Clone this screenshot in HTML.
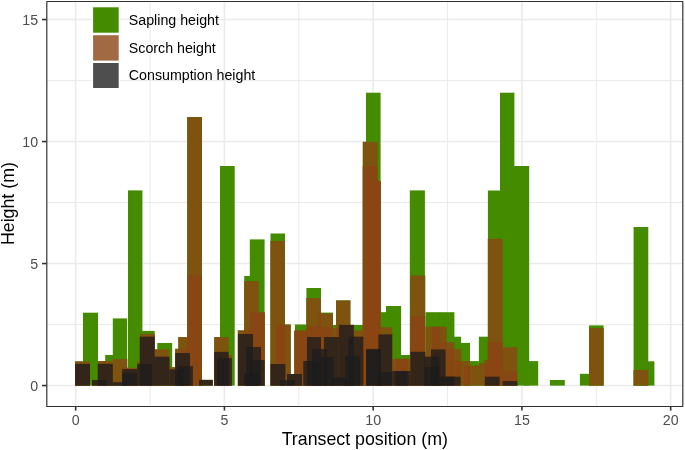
<!DOCTYPE html>
<html><head><meta charset="utf-8"><style>
html,body{margin:0;padding:0;background:#fff;}
svg{display:block;will-change:transform;}
text{font-family:"Liberation Sans",sans-serif;}
.g{fill:#458B00;}
.b{fill:#8B4513;fill-opacity:0.8;}
.d{fill:#1C1C1C;fill-opacity:0.78;}
.gmaj{stroke:#EBEBEB;stroke-width:1.6;}
.gmin{stroke:#EBEBEB;stroke-width:1.0;}
.tick{stroke:#333;stroke-width:1.6;}
.tl{fill:#4D4D4D;font-size:14.23px;}
.at{fill:#000;font-size:17.79px;}
.lt{fill:#000;font-size:14.23px;}
</style></head><body>
<svg width="685" height="450" viewBox="0 0 685 450">
<rect x="0" y="0" width="685" height="450" fill="#fff"/>
<line class="gmin" x1="46.8" x2="682.8" y1="324.56" y2="324.56"/>
<line class="gmin" x1="46.8" x2="682.8" y1="202.56" y2="202.56"/>
<line class="gmin" x1="46.8" x2="682.8" y1="80.56" y2="80.56"/>
<line class="gmin" x1="150.05" x2="150.05" y1="1.5" y2="406.5"/>
<line class="gmin" x1="298.80" x2="298.80" y1="1.5" y2="406.5"/>
<line class="gmin" x1="447.55" x2="447.55" y1="1.5" y2="406.5"/>
<line class="gmin" x1="596.29" x2="596.29" y1="1.5" y2="406.5"/>
<line class="gmaj" x1="46.8" x2="682.8" y1="385.56" y2="385.56"/>
<line class="gmaj" x1="46.8" x2="682.8" y1="263.56" y2="263.56"/>
<line class="gmaj" x1="46.8" x2="682.8" y1="141.56" y2="141.56"/>
<line class="gmaj" x1="46.8" x2="682.8" y1="19.56" y2="19.56"/>
<line class="gmaj" x1="75.67" x2="75.67" y1="1.5" y2="406.5"/>
<line class="gmaj" x1="224.42" x2="224.42" y1="1.5" y2="406.5"/>
<line class="gmaj" x1="373.17" x2="373.17" y1="1.5" y2="406.5"/>
<line class="gmaj" x1="521.92" x2="521.92" y1="1.5" y2="406.5"/>
<line class="gmaj" x1="670.67" x2="670.67" y1="1.5" y2="406.5"/>
<rect class="g" x="75.0" y="361.5" width="15.0" height="24.1"/>
<rect class="g" x="83.0" y="312.7" width="15.0" height="72.9"/>
<rect class="g" x="97.8" y="361.1" width="15.0" height="24.5"/>
<rect class="g" x="105.2" y="355.0" width="14.8" height="30.6"/>
<rect class="g" x="112.8" y="318.4" width="14.4" height="67.2"/>
<rect class="g" x="128.0" y="190.4" width="14.4" height="195.2"/>
<rect class="g" x="140.0" y="330.9" width="14.7" height="54.7"/>
<rect class="g" x="157.3" y="343.0" width="14.9" height="42.6"/>
<rect class="g" x="187.3" y="117.0" width="14.6" height="268.6"/>
<rect class="g" x="220.0" y="166.0" width="14.7" height="219.6"/>
<rect class="g" x="244.2" y="276.0" width="14.8" height="109.6"/>
<rect class="g" x="249.8" y="239.4" width="14.8" height="146.2"/>
<rect class="g" x="270.5" y="233.5" width="14.5" height="152.1"/>
<rect class="g" x="295.0" y="324.5" width="12.0" height="61.1"/>
<rect class="g" x="306.4" y="288.0" width="14.6" height="97.6"/>
<rect class="g" x="318.2" y="312.6" width="14.7" height="73.0"/>
<rect class="g" x="333.0" y="325.0" width="15.0" height="60.6"/>
<rect class="g" x="348.5" y="325.0" width="14.8" height="60.6"/>
<rect class="g" x="366.0" y="92.7" width="14.6" height="292.9"/>
<rect class="g" x="371.5" y="312.2" width="14.5" height="73.4"/>
<rect class="g" x="386.0" y="306.0" width="15.1" height="79.6"/>
<rect class="g" x="396.0" y="355.0" width="14.4" height="30.6"/>
<rect class="g" x="409.8" y="190.4" width="15.1" height="195.2"/>
<rect class="g" x="425.6" y="312.2" width="14.8" height="73.4"/>
<rect class="g" x="439.6" y="312.2" width="14.8" height="73.4"/>
<rect class="g" x="446.5" y="336.7" width="14.6" height="48.9"/>
<rect class="g" x="455.2" y="342.9" width="14.8" height="42.7"/>
<rect class="g" x="464.0" y="361.1" width="14.9" height="24.5"/>
<rect class="g" x="478.9" y="336.7" width="14.8" height="48.9"/>
<rect class="g" x="487.9" y="190.5" width="14.7" height="195.1"/>
<rect class="g" x="500.0" y="92.7" width="14.4" height="292.9"/>
<rect class="g" x="514.0" y="166.0" width="15.2" height="219.6"/>
<rect class="g" x="523.4" y="361.1" width="14.8" height="24.5"/>
<rect class="g" x="549.9" y="380.0" width="14.9" height="5.6"/>
<rect class="g" x="579.9" y="373.8" width="14.7" height="11.8"/>
<rect class="g" x="589.0" y="325.4" width="14.6" height="60.2"/>
<rect class="g" x="633.6" y="227.0" width="14.7" height="158.6"/>
<rect class="g" x="639.5" y="361.3" width="14.9" height="24.3"/>
<rect class="g" x="75.0" y="361.5" width="15.0" height="24.1"/>
<rect class="g" x="97.8" y="361.1" width="15.0" height="24.5"/>
<rect class="g" x="112.8" y="359.1" width="14.4" height="26.5"/>
<rect class="g" x="122.2" y="367.8" width="15.0" height="17.8"/>
<rect class="g" x="137.2" y="361.7" width="14.8" height="23.9"/>
<rect class="g" x="139.8" y="333.9" width="14.9" height="51.7"/>
<rect class="g" x="154.4" y="349.4" width="15.0" height="36.2"/>
<rect class="g" x="169.4" y="367.2" width="14.6" height="18.4"/>
<rect class="g" x="175.2" y="348.8" width="14.8" height="36.8"/>
<rect class="g" x="178.3" y="337.1" width="14.7" height="48.5"/>
<rect class="g" x="187.3" y="117.0" width="14.6" height="268.6"/>
<rect class="g" x="187.3" y="275.5" width="14.6" height="110.1"/>
<rect class="g" x="214.2" y="337.1" width="14.5" height="48.5"/>
<rect class="g" x="217.0" y="355.0" width="14.8" height="30.6"/>
<rect class="g" x="237.8" y="330.4" width="14.8" height="55.2"/>
<rect class="g" x="244.2" y="281.1" width="14.5" height="104.5"/>
<rect class="g" x="249.8" y="312.5" width="14.8" height="73.1"/>
<rect class="g" x="258.7" y="312.5" width="5.9" height="73.1"/>
<rect class="g" x="270.5" y="241.0" width="14.5" height="144.6"/>
<rect class="g" x="276.0" y="324.5" width="14.8" height="61.1"/>
<rect class="g" x="294.4" y="330.3" width="14.8" height="55.3"/>
<rect class="g" x="294.4" y="331.0" width="14.8" height="54.6"/>
<rect class="g" x="306.4" y="326.3" width="14.8" height="59.3"/>
<rect class="g" x="306.4" y="298.0" width="14.6" height="87.6"/>
<rect class="g" x="318.2" y="313.3" width="14.7" height="72.3"/>
<rect class="g" x="318.2" y="326.3" width="14.8" height="59.3"/>
<rect class="g" x="333.0" y="328.0" width="15.0" height="57.6"/>
<rect class="g" x="336.0" y="300.4" width="14.4" height="85.2"/>
<rect class="g" x="348.5" y="330.5" width="14.8" height="55.1"/>
<rect class="g" x="362.8" y="141.8" width="14.8" height="243.8"/>
<rect class="g" x="362.8" y="166.3" width="14.8" height="219.3"/>
<rect class="g" x="366.0" y="181.0" width="14.7" height="204.6"/>
<rect class="g" x="377.6" y="181.0" width="3.1" height="204.6"/>
<rect class="g" x="377.4" y="327.3" width="14.8" height="58.3"/>
<rect class="g" x="392.2" y="358.9" width="15.5" height="26.7"/>
<rect class="g" x="395.6" y="358.9" width="14.8" height="26.7"/>
<rect class="g" x="410.4" y="275.4" width="14.8" height="110.2"/>
<rect class="g" x="410.4" y="316.7" width="14.8" height="68.9"/>
<rect class="g" x="425.6" y="326.7" width="14.8" height="58.9"/>
<rect class="g" x="432.0" y="326.7" width="14.7" height="58.9"/>
<rect class="g" x="439.6" y="342.2" width="14.8" height="43.4"/>
<rect class="g" x="446.5" y="348.9" width="14.6" height="36.7"/>
<rect class="g" x="455.2" y="361.0" width="14.8" height="24.6"/>
<rect class="g" x="464.0" y="365.6" width="14.9" height="20.0"/>
<rect class="g" x="478.9" y="363.3" width="14.8" height="22.3"/>
<rect class="g" x="487.9" y="238.8" width="14.7" height="146.8"/>
<rect class="g" x="487.9" y="342.7" width="14.7" height="42.9"/>
<rect class="g" x="502.2" y="347.3" width="15.1" height="38.3"/>
<rect class="g" x="484.4" y="360.0" width="14.6" height="25.6"/>
<rect class="g" x="502.2" y="371.1" width="15.1" height="14.5"/>
<rect class="g" x="589.0" y="328.1" width="14.6" height="57.5"/>
<rect class="g" x="633.6" y="370.0" width="14.7" height="15.6"/>
<rect class="g" x="75.0" y="363.9" width="15.0" height="21.7"/>
<rect class="g" x="92.0" y="380.0" width="15.0" height="5.6"/>
<rect class="g" x="97.8" y="363.9" width="15.0" height="21.7"/>
<rect class="g" x="112.8" y="382.2" width="14.4" height="3.4"/>
<rect class="g" x="122.2" y="369.1" width="15.0" height="16.5"/>
<rect class="g" x="122.2" y="373.3" width="15.0" height="12.3"/>
<rect class="g" x="137.2" y="363.9" width="14.8" height="21.7"/>
<rect class="g" x="139.8" y="336.7" width="14.9" height="48.9"/>
<rect class="g" x="154.4" y="356.7" width="15.0" height="28.9"/>
<rect class="g" x="169.4" y="369.4" width="14.8" height="16.2"/>
<rect class="g" x="175.2" y="353.0" width="14.8" height="32.6"/>
<rect class="g" x="177.8" y="366.2" width="15.1" height="19.4"/>
<rect class="g" x="199.1" y="379.9" width="13.7" height="5.7"/>
<rect class="g" x="214.2" y="351.9" width="14.5" height="33.7"/>
<rect class="g" x="217.0" y="358.1" width="14.8" height="27.5"/>
<rect class="g" x="238.0" y="334.0" width="15.0" height="51.6"/>
<rect class="g" x="246.0" y="347.0" width="15.0" height="38.6"/>
<rect class="g" x="244.0" y="374.0" width="15.0" height="11.6"/>
<rect class="g" x="249.8" y="360.0" width="14.8" height="25.6"/>
<rect class="g" x="270.6" y="364.0" width="14.8" height="21.6"/>
<rect class="g" x="280.0" y="380.0" width="15.0" height="5.6"/>
<rect class="g" x="287.0" y="374.0" width="15.0" height="11.6"/>
<rect class="g" x="303.3" y="361.0" width="14.7" height="24.6"/>
<rect class="g" x="307.0" y="337.0" width="14.0" height="48.6"/>
<rect class="g" x="324.0" y="337.0" width="14.8" height="48.6"/>
<rect class="g" x="312.0" y="349.0" width="15.0" height="36.6"/>
<rect class="g" x="319.0" y="357.0" width="15.0" height="28.6"/>
<rect class="g" x="338.9" y="324.9" width="14.9" height="60.7"/>
<rect class="g" x="345.0" y="355.8" width="15.0" height="29.8"/>
<rect class="g" x="332.0" y="377.5" width="15.0" height="8.1"/>
<rect class="g" x="348.5" y="336.7" width="14.8" height="48.9"/>
<rect class="g" x="366.2" y="348.9" width="14.7" height="36.7"/>
<rect class="g" x="366.2" y="350.0" width="14.7" height="35.6"/>
<rect class="g" x="378.4" y="334.4" width="13.8" height="51.2"/>
<rect class="g" x="377.0" y="372.2" width="15.0" height="13.4"/>
<rect class="g" x="392.2" y="371.1" width="15.5" height="14.5"/>
<rect class="g" x="395.6" y="371.1" width="14.8" height="14.5"/>
<rect class="g" x="410.4" y="351.8" width="14.8" height="33.8"/>
<rect class="g" x="424.6" y="356.7" width="14.8" height="28.9"/>
<rect class="g" x="424.6" y="367.2" width="14.8" height="18.4"/>
<rect class="g" x="431.0" y="349.4" width="14.6" height="36.2"/>
<rect class="g" x="439.4" y="376.7" width="14.8" height="8.9"/>
<rect class="g" x="446.0" y="376.7" width="14.6" height="8.9"/>
<rect class="g" x="484.9" y="376.7" width="14.7" height="8.9"/>
<rect class="g" x="502.7" y="381.1" width="14.6" height="4.5"/>
<rect class="b" x="75.0" y="361.5" width="15.0" height="24.1"/>
<rect class="b" x="97.8" y="361.1" width="15.0" height="24.5"/>
<rect class="b" x="112.8" y="359.1" width="14.4" height="26.5"/>
<rect class="b" x="122.2" y="367.8" width="15.0" height="17.8"/>
<rect class="b" x="137.2" y="361.7" width="14.8" height="23.9"/>
<rect class="b" x="139.8" y="333.9" width="14.9" height="51.7"/>
<rect class="b" x="154.4" y="349.4" width="15.0" height="36.2"/>
<rect class="b" x="169.4" y="367.2" width="14.6" height="18.4"/>
<rect class="b" x="175.2" y="348.8" width="14.8" height="36.8"/>
<rect class="b" x="178.3" y="337.1" width="14.7" height="48.5"/>
<rect class="b" x="187.3" y="117.0" width="14.6" height="268.6"/>
<rect class="b" x="187.3" y="275.5" width="14.6" height="110.1"/>
<rect class="b" x="214.2" y="337.1" width="14.5" height="48.5"/>
<rect class="b" x="217.0" y="355.0" width="14.8" height="30.6"/>
<rect class="b" x="237.8" y="330.4" width="14.8" height="55.2"/>
<rect class="b" x="244.2" y="281.1" width="14.5" height="104.5"/>
<rect class="b" x="249.8" y="312.5" width="14.8" height="73.1"/>
<rect class="b" x="258.7" y="312.5" width="5.9" height="73.1"/>
<rect class="b" x="270.5" y="241.0" width="14.5" height="144.6"/>
<rect class="b" x="276.0" y="324.5" width="14.8" height="61.1"/>
<rect class="b" x="294.4" y="330.3" width="14.8" height="55.3"/>
<rect class="b" x="294.4" y="331.0" width="14.8" height="54.6"/>
<rect class="b" x="306.4" y="326.3" width="14.8" height="59.3"/>
<rect class="b" x="306.4" y="298.0" width="14.6" height="87.6"/>
<rect class="b" x="318.2" y="313.3" width="14.7" height="72.3"/>
<rect class="b" x="318.2" y="326.3" width="14.8" height="59.3"/>
<rect class="b" x="333.0" y="328.0" width="15.0" height="57.6"/>
<rect class="b" x="336.0" y="300.4" width="14.4" height="85.2"/>
<rect class="b" x="348.5" y="330.5" width="14.8" height="55.1"/>
<rect class="b" x="362.8" y="141.8" width="14.8" height="243.8"/>
<rect class="b" x="362.8" y="166.3" width="14.8" height="219.3"/>
<rect class="b" x="366.0" y="181.0" width="14.7" height="204.6"/>
<rect class="b" x="377.6" y="181.0" width="3.1" height="204.6"/>
<rect class="b" x="377.4" y="327.3" width="14.8" height="58.3"/>
<rect class="b" x="392.2" y="358.9" width="15.5" height="26.7"/>
<rect class="b" x="395.6" y="358.9" width="14.8" height="26.7"/>
<rect class="b" x="410.4" y="275.4" width="14.8" height="110.2"/>
<rect class="b" x="410.4" y="316.7" width="14.8" height="68.9"/>
<rect class="b" x="425.6" y="326.7" width="14.8" height="58.9"/>
<rect class="b" x="432.0" y="326.7" width="14.7" height="58.9"/>
<rect class="b" x="439.6" y="342.2" width="14.8" height="43.4"/>
<rect class="b" x="446.5" y="348.9" width="14.6" height="36.7"/>
<rect class="b" x="455.2" y="361.0" width="14.8" height="24.6"/>
<rect class="b" x="464.0" y="365.6" width="14.9" height="20.0"/>
<rect class="b" x="478.9" y="363.3" width="14.8" height="22.3"/>
<rect class="b" x="487.9" y="238.8" width="14.7" height="146.8"/>
<rect class="b" x="487.9" y="342.7" width="14.7" height="42.9"/>
<rect class="b" x="502.2" y="347.3" width="15.1" height="38.3"/>
<rect class="b" x="484.4" y="360.0" width="14.6" height="25.6"/>
<rect class="b" x="502.2" y="371.1" width="15.1" height="14.5"/>
<rect class="b" x="589.0" y="328.1" width="14.6" height="57.5"/>
<rect class="b" x="633.6" y="370.0" width="14.7" height="15.6"/>
<rect class="b" x="75.0" y="363.9" width="15.0" height="21.7"/>
<rect class="b" x="92.0" y="380.0" width="15.0" height="5.6"/>
<rect class="b" x="97.8" y="363.9" width="15.0" height="21.7"/>
<rect class="b" x="112.8" y="382.2" width="14.4" height="3.4"/>
<rect class="b" x="122.2" y="369.1" width="15.0" height="16.5"/>
<rect class="b" x="122.2" y="373.3" width="15.0" height="12.3"/>
<rect class="b" x="137.2" y="363.9" width="14.8" height="21.7"/>
<rect class="b" x="139.8" y="336.7" width="14.9" height="48.9"/>
<rect class="b" x="154.4" y="356.7" width="15.0" height="28.9"/>
<rect class="b" x="169.4" y="369.4" width="14.8" height="16.2"/>
<rect class="b" x="175.2" y="353.0" width="14.8" height="32.6"/>
<rect class="b" x="177.8" y="366.2" width="15.1" height="19.4"/>
<rect class="b" x="199.1" y="379.9" width="13.7" height="5.7"/>
<rect class="b" x="214.2" y="351.9" width="14.5" height="33.7"/>
<rect class="b" x="217.0" y="358.1" width="14.8" height="27.5"/>
<rect class="b" x="238.0" y="334.0" width="15.0" height="51.6"/>
<rect class="b" x="246.0" y="347.0" width="15.0" height="38.6"/>
<rect class="b" x="244.0" y="374.0" width="15.0" height="11.6"/>
<rect class="b" x="249.8" y="360.0" width="14.8" height="25.6"/>
<rect class="b" x="270.6" y="364.0" width="14.8" height="21.6"/>
<rect class="b" x="280.0" y="380.0" width="15.0" height="5.6"/>
<rect class="b" x="287.0" y="374.0" width="15.0" height="11.6"/>
<rect class="b" x="303.3" y="361.0" width="14.7" height="24.6"/>
<rect class="b" x="307.0" y="337.0" width="14.0" height="48.6"/>
<rect class="b" x="324.0" y="337.0" width="14.8" height="48.6"/>
<rect class="b" x="312.0" y="349.0" width="15.0" height="36.6"/>
<rect class="b" x="319.0" y="357.0" width="15.0" height="28.6"/>
<rect class="b" x="338.9" y="324.9" width="14.9" height="60.7"/>
<rect class="b" x="345.0" y="355.8" width="15.0" height="29.8"/>
<rect class="b" x="332.0" y="377.5" width="15.0" height="8.1"/>
<rect class="b" x="348.5" y="336.7" width="14.8" height="48.9"/>
<rect class="b" x="366.2" y="348.9" width="14.7" height="36.7"/>
<rect class="b" x="366.2" y="350.0" width="14.7" height="35.6"/>
<rect class="b" x="378.4" y="334.4" width="13.8" height="51.2"/>
<rect class="b" x="377.0" y="372.2" width="15.0" height="13.4"/>
<rect class="b" x="392.2" y="371.1" width="15.5" height="14.5"/>
<rect class="b" x="395.6" y="371.1" width="14.8" height="14.5"/>
<rect class="b" x="410.4" y="351.8" width="14.8" height="33.8"/>
<rect class="b" x="424.6" y="356.7" width="14.8" height="28.9"/>
<rect class="b" x="424.6" y="367.2" width="14.8" height="18.4"/>
<rect class="b" x="431.0" y="349.4" width="14.6" height="36.2"/>
<rect class="b" x="439.4" y="376.7" width="14.8" height="8.9"/>
<rect class="b" x="446.0" y="376.7" width="14.6" height="8.9"/>
<rect class="b" x="484.9" y="376.7" width="14.7" height="8.9"/>
<rect class="b" x="502.7" y="381.1" width="14.6" height="4.5"/>
<rect class="d" x="75.0" y="363.9" width="15.0" height="21.7"/>
<rect class="d" x="92.0" y="380.0" width="15.0" height="5.6"/>
<rect class="d" x="97.8" y="363.9" width="15.0" height="21.7"/>
<rect class="d" x="112.8" y="382.2" width="14.4" height="3.4"/>
<rect class="d" x="122.2" y="369.1" width="15.0" height="16.5"/>
<rect class="d" x="122.2" y="373.3" width="15.0" height="12.3"/>
<rect class="d" x="137.2" y="363.9" width="14.8" height="21.7"/>
<rect class="d" x="139.8" y="336.7" width="14.9" height="48.9"/>
<rect class="d" x="154.4" y="356.7" width="15.0" height="28.9"/>
<rect class="d" x="169.4" y="369.4" width="14.8" height="16.2"/>
<rect class="d" x="175.2" y="353.0" width="14.8" height="32.6"/>
<rect class="d" x="177.8" y="366.2" width="15.1" height="19.4"/>
<rect class="d" x="199.1" y="379.9" width="13.7" height="5.7"/>
<rect class="d" x="214.2" y="351.9" width="14.5" height="33.7"/>
<rect class="d" x="217.0" y="358.1" width="14.8" height="27.5"/>
<rect class="d" x="238.0" y="334.0" width="15.0" height="51.6"/>
<rect class="d" x="246.0" y="347.0" width="15.0" height="38.6"/>
<rect class="d" x="244.0" y="374.0" width="15.0" height="11.6"/>
<rect class="d" x="249.8" y="360.0" width="14.8" height="25.6"/>
<rect class="d" x="270.6" y="364.0" width="14.8" height="21.6"/>
<rect class="d" x="280.0" y="380.0" width="15.0" height="5.6"/>
<rect class="d" x="287.0" y="374.0" width="15.0" height="11.6"/>
<rect class="d" x="303.3" y="361.0" width="14.7" height="24.6"/>
<rect class="d" x="307.0" y="337.0" width="14.0" height="48.6"/>
<rect class="d" x="324.0" y="337.0" width="14.8" height="48.6"/>
<rect class="d" x="312.0" y="349.0" width="15.0" height="36.6"/>
<rect class="d" x="319.0" y="357.0" width="15.0" height="28.6"/>
<rect class="d" x="338.9" y="324.9" width="14.9" height="60.7"/>
<rect class="d" x="345.0" y="355.8" width="15.0" height="29.8"/>
<rect class="d" x="332.0" y="377.5" width="15.0" height="8.1"/>
<rect class="d" x="348.5" y="336.7" width="14.8" height="48.9"/>
<rect class="d" x="366.2" y="348.9" width="14.7" height="36.7"/>
<rect class="d" x="366.2" y="350.0" width="14.7" height="35.6"/>
<rect class="d" x="378.4" y="334.4" width="13.8" height="51.2"/>
<rect class="d" x="377.0" y="372.2" width="15.0" height="13.4"/>
<rect class="d" x="392.2" y="371.1" width="15.5" height="14.5"/>
<rect class="d" x="395.6" y="371.1" width="14.8" height="14.5"/>
<rect class="d" x="410.4" y="351.8" width="14.8" height="33.8"/>
<rect class="d" x="424.6" y="356.7" width="14.8" height="28.9"/>
<rect class="d" x="424.6" y="367.2" width="14.8" height="18.4"/>
<rect class="d" x="431.0" y="349.4" width="14.6" height="36.2"/>
<rect class="d" x="439.4" y="376.7" width="14.8" height="8.9"/>
<rect class="d" x="446.0" y="376.7" width="14.6" height="8.9"/>
<rect class="d" x="484.9" y="376.7" width="14.7" height="8.9"/>
<rect class="d" x="502.7" y="381.1" width="14.6" height="4.5"/>
<rect x="46.8" y="1.5" width="636.0" height="405.0" fill="none" stroke="#333" stroke-width="1.2" stroke-linejoin="round"/>
<line class="tick" x1="42" x2="46.8" y1="385.56" y2="385.56"/>
<line class="tick" x1="42" x2="46.8" y1="263.56" y2="263.56"/>
<line class="tick" x1="42" x2="46.8" y1="141.56" y2="141.56"/>
<line class="tick" x1="42" x2="46.8" y1="19.56" y2="19.56"/>
<line class="tick" x1="75.67" x2="75.67" y1="406.5" y2="410.6"/>
<line class="tick" x1="224.42" x2="224.42" y1="406.5" y2="410.6"/>
<line class="tick" x1="373.17" x2="373.17" y1="406.5" y2="410.6"/>
<line class="tick" x1="521.92" x2="521.92" y1="406.5" y2="410.6"/>
<line class="tick" x1="670.67" x2="670.67" y1="406.5" y2="410.6"/>
<text class="tl" x="38.2" y="391.06" text-anchor="end">0</text>
<text class="tl" x="38.2" y="269.06" text-anchor="end">5</text>
<text class="tl" x="38.2" y="147.06" text-anchor="end">10</text>
<text class="tl" x="38.2" y="25.06" text-anchor="end">15</text>
<text class="tl" x="75.67" y="424.5" text-anchor="middle">0</text>
<text class="tl" x="224.42" y="424.5" text-anchor="middle">5</text>
<text class="tl" x="373.17" y="424.5" text-anchor="middle">10</text>
<text class="tl" x="521.92" y="424.5" text-anchor="middle">15</text>
<text class="tl" x="670.67" y="424.5" text-anchor="middle">20</text>
<text class="at" x="364.8" y="444.7" text-anchor="middle">Transect position (m)</text>
<text class="at" transform="translate(14.4,203.6) rotate(-90)" text-anchor="middle">Height (m)</text>
<rect x="91.4" y="5.9" width="28.9" height="83.3" fill="#fff"/>
<rect x="93.1" y="7.3" width="25.6" height="25.4" fill="#458B00"/>
<rect x="93.1" y="35.2" width="25.6" height="25.4" fill="#8B4513" fill-opacity="0.8"/>
<rect x="93.1" y="63.0" width="25.6" height="25.0" fill="#1C1C1C" fill-opacity="0.78"/>
<text class="lt" x="128.8" y="25.3">Sapling height</text>
<text class="lt" x="128.8" y="52.8">Scorch height</text>
<text class="lt" x="128.8" y="80.4">Consumption height</text>
</svg>
</body></html>
